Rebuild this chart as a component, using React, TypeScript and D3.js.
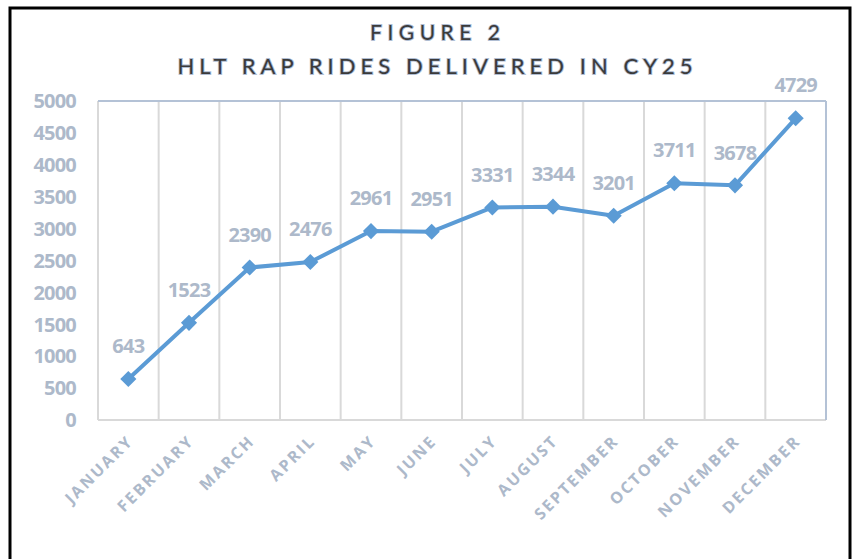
import React, { useRef, useEffect } from 'react'
import * as d3 from 'd3'

const months = [
  'JANUARY', 'FEBRUARY', 'MARCH', 'APRIL', 'MAY', 'JUNE',
  'JULY', 'AUGUST', 'SEPTEMBER', 'OCTOBER', 'NOVEMBER', 'DECEMBER',
]
const rides = [643, 1523, 2390, 2476, 2961, 2951, 3331, 3344, 3201, 3711, 3678, 4729]
const yTicks = [0, 500, 1000, 1500, 2000, 2500, 3000, 3500, 4000, 4500, 5000]

const W = 858
const H = 559
const labelColor = '#adb9ca'
const lineColor = '#5b9bd5'
const titleFont = 'Lato, "Open Sans", sans-serif'
const font = '"Open Sans", Lato, sans-serif'

export default function App() {
  const ref = useRef<SVGSVGElement>(null)

  useEffect(() => {
    const svg = d3.select(ref.current)
    svg.selectAll('*').remove() // redraw from scratch

    const margin = { top: 101, right: 32, bottom: 139, left: 98 }
    const x = d3.scaleBand().domain(months).range([margin.left, W - margin.right])
    const y = d3.scaleLinear().domain([0, 5000]).range([H - margin.bottom, margin.top])
    const cx = (m: string) => (x(m) as number) + x.bandwidth() / 2

    svg.append('rect').attr('width', W).attr('height', H).attr('fill', '#fff')

    // outer frame
    svg.append('rect')
      .attr('x', 10).attr('y', 8).attr('width', 840).attr('height', 570)
      .attr('fill', 'none').attr('stroke', '#000').attr('stroke-width', 3)

    // title
    const title = svg.append('g')
      .attr('font-family', titleFont)
      .attr('fill', '#3a3a3a')
      .attr('stroke', '#b0bdd2')
      .attr('stroke-width', 1.8)
      .attr('paint-order', 'stroke')
      .attr('text-anchor', 'middle')
    title.append('text')
      .attr('x', 435).attr('y', 40).attr('font-size', 21)
      .attr('textLength', 130).attr('lengthAdjust', 'spacing')
      .text('FIGURE 2')
    title.append('text')
      .attr('x', 435).attr('y', 74).attr('font-size', 22)
      .attr('textLength', 515).attr('lengthAdjust', 'spacing')
      .text('HLT RAP RIDES DELIVERED IN CY25')

    // vertical category gridlines
    const x0 = margin.left
    const x1 = W - margin.right
    const yb = y(0)
    const yt = y(5000)
    svg.append('g')
      .selectAll('line')
      .data(months.slice(1))
      .join('line')
      .attr('x1', (d) => x(d) as number).attr('x2', (d) => x(d) as number)
      .attr('y1', yt).attr('y2', yb)
      .attr('stroke', '#d9d9d9').attr('stroke-width', 2)

    // plot border
    svg.append('line').attr('x1', x0).attr('x2', x0).attr('y1', yt).attr('y2', yb)
      .attr('stroke', '#d9d9d9').attr('stroke-width', 2)
    svg.append('line').attr('x1', x0).attr('x2', x1).attr('y1', yb).attr('y2', yb)
      .attr('stroke', '#d9d9d9').attr('stroke-width', 2)
    svg.append('line').attr('x1', x0).attr('x2', x1).attr('y1', yt).attr('y2', yt)
      .attr('stroke', '#b4c2d6').attr('stroke-width', 2)
    svg.append('line').attr('x1', x1).attr('x2', x1).attr('y1', yt).attr('y2', yb)
      .attr('stroke', '#b4c2d6').attr('stroke-width', 2)

    // y axis labels
    svg.append('g')
      .selectAll('text')
      .data(yTicks)
      .join('text')
      .attr('x', 76).attr('y', (d) => y(d)).attr('dy', '0.36em')
      .attr('text-anchor', 'end')
      .attr('font-family', font).attr('font-weight', 700).attr('font-size', 20)
      .attr('letter-spacing', -0.8)
      .attr('fill', labelColor)
      .text((d) => d)

    // x axis labels
    svg.append('g')
      .selectAll('text')
      .data(months)
      .join('text')
      .attr('transform', (d) => `translate(${cx(d) + 6},${yb + 22}) rotate(-45)`)
      .attr('text-anchor', 'end')
      .attr('font-family', font).attr('font-weight', 700).attr('font-size', 16)
      .attr('letter-spacing', 2.2)
      .attr('fill', labelColor)
      .text((d) => d)

    // line
    const line = d3.line<number>()
      .x((_, i) => cx(months[i]))
      .y((d) => y(d))
    svg.append('path')
      .datum(rides)
      .attr('d', line)
      .attr('fill', 'none')
      .attr('stroke', lineColor)
      .attr('stroke-width', 4)
      .attr('stroke-linejoin', 'round')

    // diamond markers
    const diamond = d3.symbol().type(d3.symbolSquare).size(130)
    svg.append('g')
      .selectAll('path')
      .data(rides)
      .join('path')
      .attr('d', diamond)
      .attr('transform', (d, i) => `translate(${cx(months[i])},${y(d)}) rotate(45)`)
      .attr('fill', lineColor)

    // data labels
    svg.append('g')
      .selectAll('text')
      .data(rides)
      .join('text')
      .attr('x', (_, i) => cx(months[i]))
      .attr('y', (d) => y(d) - 33)
      .attr('dy', '0.36em')
      .attr('text-anchor', 'middle')
      .attr('font-family', font).attr('font-weight', 700).attr('font-size', 20)
      .attr('letter-spacing', -0.8)
      .attr('fill', labelColor)
      .text((d) => d)
  }, [])

  return (
    <svg
      ref={ref}
      width={W}
      height={H}
      style={{ position: 'fixed', left: 0, top: 0, display: 'block' }}
    ></svg>
  )
}
